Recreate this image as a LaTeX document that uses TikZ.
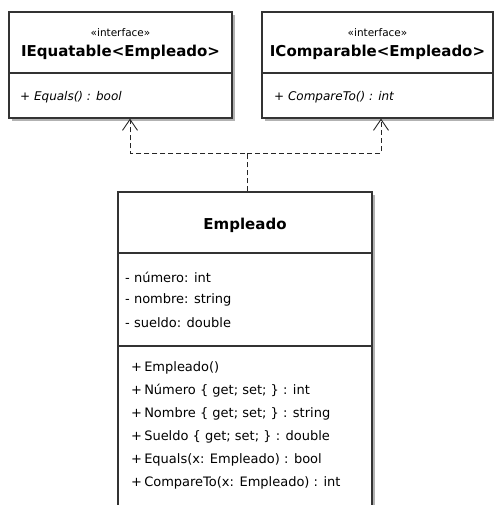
\documentclass[tikz,border=0pt]{standalone}
\usepackage{fontspec}
\setmainfont{DejaVu Sans}
\usetikzlibrary{arrows.meta,shadows}

\begin{document}
\begin{tikzpicture}[x=1pt,y=-1pt,
  classbox/.style={draw=black!80,line width=1.2pt,fill=white,
    drop shadow={shadow xshift=3pt,shadow yshift=-3pt,fill=black!30,opacity=1}},
  stereo/.style={font=\fontsize{10.5}{12}\selectfont},
  cname/.style={font=\fontsize{15}{17}\selectfont\bfseries},
  member/.style={anchor=west,inner sep=0pt,font=\fontsize{13}{15}\selectfont},
  realize/.style={draw=black!85,line width=0.9pt,dash pattern=on 5pt off 3pt,
    -{Straight Barb[length=11pt,width=15pt]}}]

  \useasboundingbox (0,0) rectangle (494,505);

  % interfaces
  \node[classbox,minimum width=223pt,minimum height=106pt] (iequat) at (120.5,65) {};
  \draw[black!80,line width=1.2pt] (iequat.west |- 0,73) -- (iequat.east |- 0,73);
  \node[stereo] (iequatst) at (120.5,33) {«interface»};
  \node[cname] (iequatnm) at (120.5,52) {IEquatable<Empleado>};
  \node[member,font=\fontsize{12}{14}\selectfont\itshape] (iequatop) at (20,97) {+ Equals() : bool};

  \node[classbox,minimum width=231pt,minimum height=106pt] (icompar) at (377.5,65) {};
  \draw[black!80,line width=1.2pt] (icompar.west |- 0,73) -- (icompar.east |- 0,73);
  \node[stereo] (icomparst) at (377.5,33) {«interface»};
  \node[cname] (icomparnm) at (377.5,52) {IComparable<Empleado>};
  \node[member,font=\fontsize{12}{14}\selectfont\itshape] (icomparop) at (274,97) {+ CompareTo() : int};

  % class
  \node[classbox,minimum width=254pt,minimum height=328pt] (empleado) at (245,356) {};
  \draw[black!80,line width=1.2pt] (empleado.west |- 0,253) -- (empleado.east |- 0,253);
  \draw[black!80,line width=1.2pt] (empleado.west |- 0,346) -- (empleado.east |- 0,346);
  \node[cname] (empnm) at (245,225) {Empleado};
  \foreach \txt [count=\i] in {número: int, nombre: string, sueldo: double}
    \node[member] (attr\i) at (125,254+23*\i) {- \txt};
  \foreach \txt [count=\i] in {Empleado(), Número \{ get; set; \} : int,
      Nombre \{ get; set; \} : string, Sueldo \{ get; set; \} : double,
      Equals(x: Empleado) : bool, CompareTo(x: Empleado) : int}
    \node[member] (op\i) at (131,345+23*\i) {+\,\txt};

  % realizations
  \coordinate (junction) at (247,153);
  \draw[realize] ([xshift=2pt]empleado.north) -- (junction) -| ([xshift=9.5pt]iequat.south);
  \draw[realize] (junction) -| ([xshift=3.5pt]icompar.south);

\end{tikzpicture}
\end{document}
